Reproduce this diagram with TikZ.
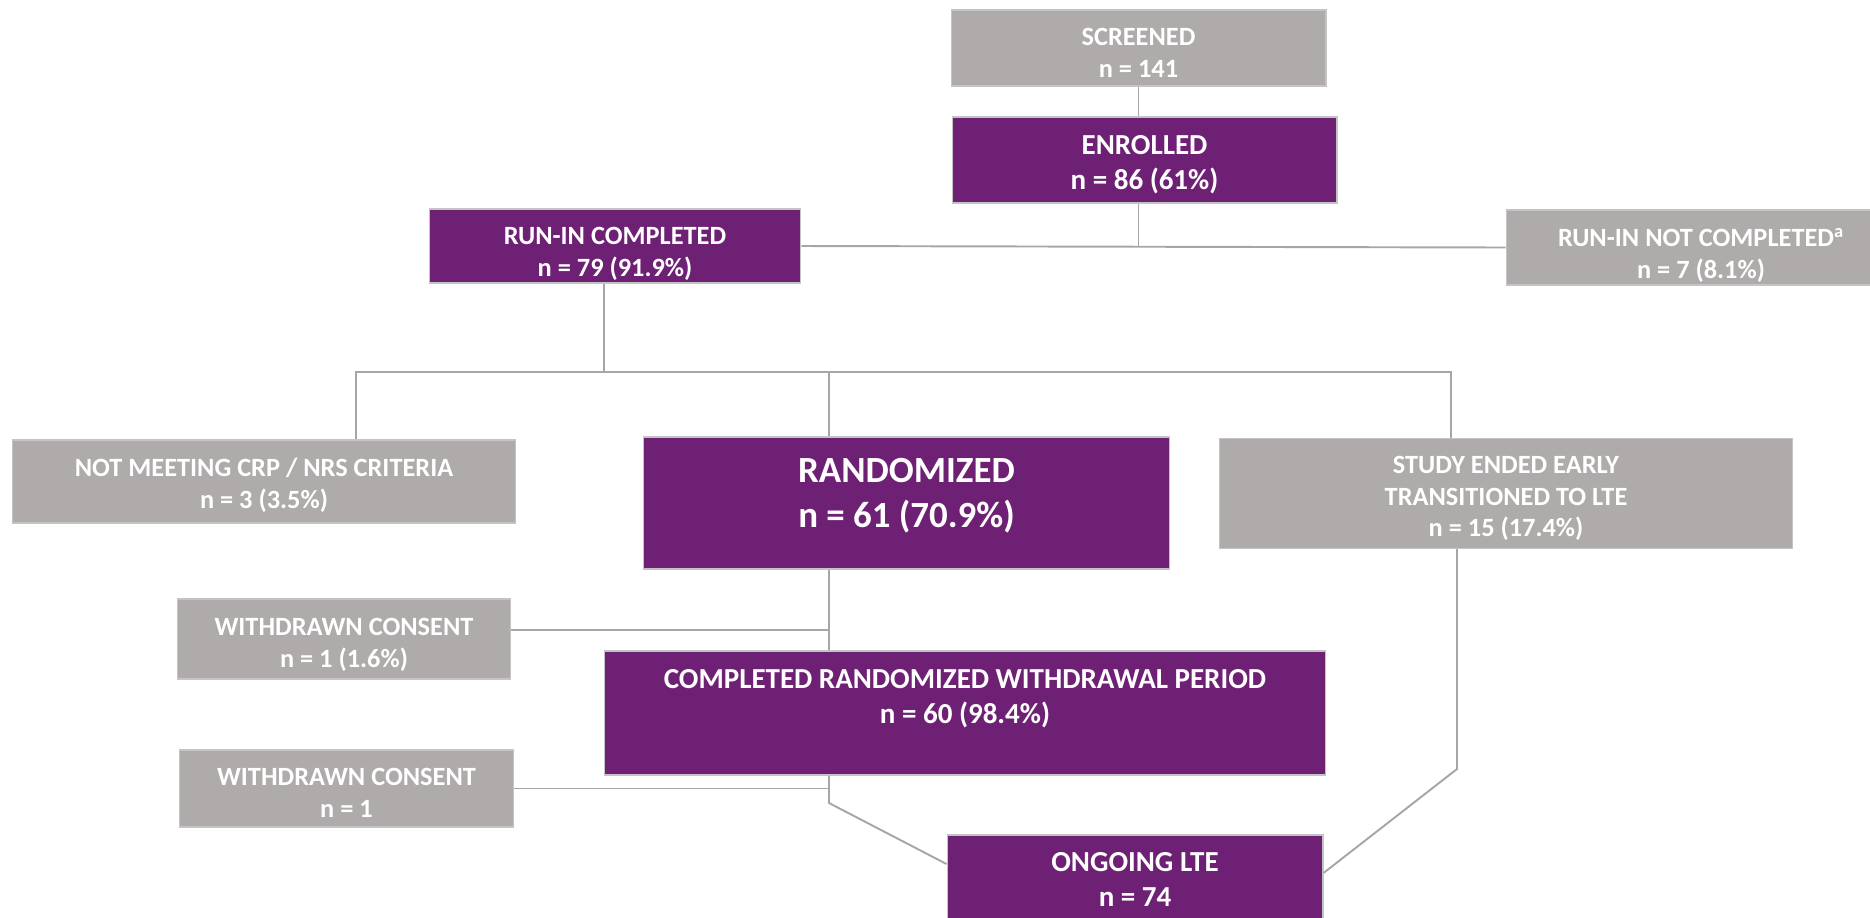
\documentclass[tikz,border=0pt]{standalone}
\usepackage{fontspec}
\setmainfont{Carlito}
\usepackage{tikz}
\usetikzlibrary{positioning}
\definecolor{trialpurple}{RGB}{110,33,116}
\definecolor{trialgrey}{RGB}{174,171,170}
\definecolor{edgegrey}{RGB}{196,196,196}
\definecolor{linkgrey}{RGB}{166,166,166}

\begin{document}
\begin{tikzpicture}[x=0.02cm, y=-0.02cm,
    box/.style={rectangle, draw=edgegrey, line width=0.6pt, align=center, text=white, inner sep=0pt, text depth=0pt},
    greybox/.style={box, fill=trialgrey, font=\bfseries\fontsize{15}{18.2}\selectfont},
    purplebox/.style={box, fill=trialpurple, font=\bfseries\fontsize{16.5}{19.9}\selectfont},
    link/.style={draw=linkgrey, line width=1.1pt}]
    \clip (0,0) rectangle (1870,917);
    % Top of the flow
    \node[greybox, minimum width=7.5cm, minimum height=1.52cm, text height=33.7pt] (screened) at (1138.5,48) {SCREENED\\n = 141};
    \node[purplebox, minimum width=7.7cm, minimum height=1.72cm, text height=34.1pt] (enrolled) at (1144.5,160) {ENROLLED\\n = 86 (61\%)};
    \node[purplebox, minimum width=7.44cm, minimum height=1.48cm, text height=35.1pt,
          font=\bfseries\fontsize{15}{18.2}\selectfont] (runin) at (615,246) {RUN-IN COMPLETED\\n = 79 (91.9\%)};
    \node[greybox, minimum width=7.8cm, minimum height=1.5cm, text height=35.7pt] (notrunin) at (1701,247.5) {RUN-IN NOT COMPLETED\textsuperscript{a}\\n = 7 (8.1\%)};
    % Outcome of the run-in
    \node[greybox, minimum width=10.06cm, minimum height=1.66cm, text height=31.1pt] (notmeet) at (264,481.5) {NOT MEETING CRP / NRS CRITERIA\\n = 3 (3.5\%)};
    \node[purplebox, minimum width=10.54cm, minimum height=2.64cm, text height=38.9pt, text depth=11.4pt,
          font=\bfseries\fontsize{21}{25.6}\selectfont] (randomized) at (906.5,503) {RANDOMIZED\\n = 61 (70.9\%)};
    \node[greybox, minimum width=11.48cm, minimum height=2.2cm, text height=49.5pt] (study) at (1506,493.5) {STUDY ENDED EARLY\\TRANSITIONED TO LTE\\n = 15 (17.4\%)};
    % Withdrawal period
    \node[greybox, minimum width=6.68cm, minimum height=1.6cm, text height=32.5pt] (wc1) at (344,639) {WITHDRAWN CONSENT\\n = 1 (1.6\%)};
    \node[purplebox, minimum width=14.44cm, minimum height=2.48cm, text height=30.3pt, text depth=18.8pt] (completed) at (965,713) {COMPLETED RANDOMIZED WITHDRAWAL PERIOD\\n = 60 (98.4\%)};
    \node[greybox, minimum width=6.7cm, minimum height=1.54cm, text height=33.3pt] (wc2) at (346.5,788.5) {WITHDRAWN CONSENT\\n = 1};
    \node[purplebox, minimum width=7.52cm, minimum height=1.8cm, text height=30.3pt] (ongoing) at (1135,880) {ONGOING LTE\\n = 74};
    % Fork points
    \coordinate (forkL) at (356,372);
    \coordinate (forkM) at (829,372);
    \coordinate (forkR) at (1451,372);
    \coordinate (bendL) at (829,803);
    \coordinate (bendR) at (1457,769);
    % Connectors
    \draw[link] (screened.south) -- (screened.south |- enrolled.north);
    \draw[link] (screened.south |- enrolled.south) -- (screened.south |- runin.east);
    \draw[link] (runin.east) -- (notrunin.west);
    \draw[link] ([xshift=-0.22cm]runin.south) -- ([xshift=-0.22cm]runin.south |- forkM);
    \draw[link] (forkL |- notmeet.north) |- (forkR) -- (forkR |- study.north);
    \draw[link] (forkM) -- (forkM |- randomized.north);
    \draw[link] (forkM |- randomized.south) -- (forkM |- completed.north);
    \draw[link] ([yshift=0.18cm]wc1.east) -- ([yshift=0.18cm]wc1.east -| forkM);
    \draw[link] (wc2.east) -- (wc2.east -| forkM);
    \draw[link] (forkM |- completed.south) -- (bendL) -- ([yshift=0.32cm]ongoing.west);
    \draw[link] (bendR |- study.south) -- (bendR) -- ([yshift=0.14cm]ongoing.east);
\end{tikzpicture}
\end{document}
